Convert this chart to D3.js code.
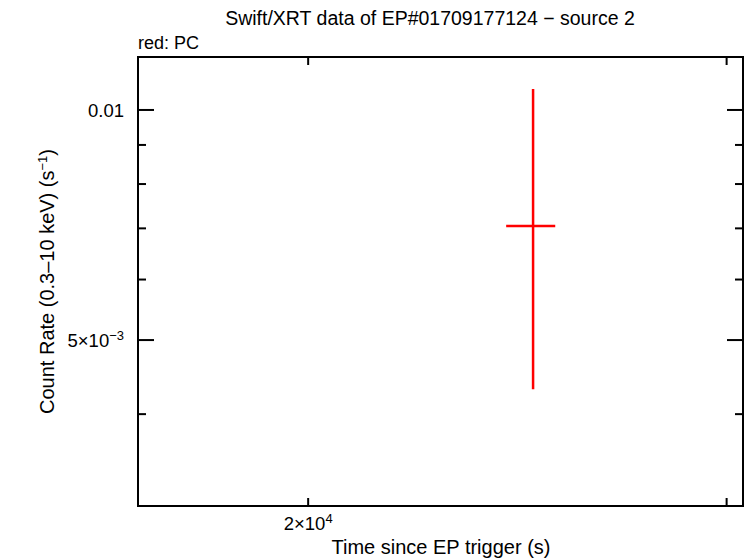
<!DOCTYPE html>
<html>
<head>
<meta charset="utf-8">
<script src="https://cdn.jsdelivr.net/npm/d3@7"></script>
<style>
  body { margin: 0; background: #fff; }
  text { font-family: "Liberation Sans", Arial, sans-serif; fill: #000; }
</style>
</head>
<body>
<div id="chart"></div>
<script>
// data
var times = [24870];
var timeLo = [24230];
var timeHi = [25410];
var rates = [0.00705];
var rateLo = [0.00431];
var rateHi = [0.01065];

var xMajor = [20000, 30000];
var xLabelBase = ["2\u00d710", ""];
var xLabelExp = ["4", ""];
var yMajor = [0.005, 0.01];
var yLabelBase = ["5\u00d710", "0.01"];
var yLabelExp = ["\u22123", ""];
var yMinor = [0.004, 0.006, 0.007, 0.008, 0.009];

var W = 746, H = 558;
var margin = { top: 57, right: 3, bottom: 52, left: 138 },
    width = W - margin.left - margin.right,
    height = H - margin.top - margin.bottom;

var x = d3.scaleLog()
    .domain([16960, 30480])
    .range([0, width]);

var y = d3.scaleLog()
    .domain([0.003033, 0.01173])
    .range([height, 0]);

var root = d3.select('#chart')
    .append('svg')
    .attr('width', W)
    .attr('height', H);

var svg = root.append('g')
    .attr('transform', 'translate(' + margin.left + ',' + margin.top + ')');

// title
root.append('text')
    .attr('x', 430)
    .attr('y', 25)
    .attr('text-anchor', 'middle')
    .style('font-size', '19.5px')
    .text('Swift/XRT data of EP#01709177124 \u2212 source 2');

root.append('text')
    .attr('x', 138)
    .attr('y', 49)
    .style('font-size', '18px')
    .text('red: PC');

// error bars
var pts = svg.selectAll('g.pt')
    .data(times)
    .enter().append('g')
    .attr('class', 'pt');

pts.append('line')
    .attr('x1', function(d) { return x(d); })
    .attr('x2', function(d) { return x(d); })
    .attr('y1', function(d, i) { return y(rateHi[i]); })
    .attr('y2', function(d, i) { return y(rateLo[i]); })
    .attr('stroke', '#ff0000')
    .attr('stroke-width', 2.5);

pts.append('line')
    .attr('x1', function(d, i) { return x(timeLo[i]); })
    .attr('x2', function(d, i) { return x(timeHi[i]); })
    .attr('y1', function(d, i) { return y(rates[i]); })
    .attr('y2', function(d, i) { return y(rates[i]); })
    .attr('stroke', '#ff0000')
    .attr('stroke-width', 2.5);

// ticks, all four sides
function tick(x1, y1, x2, y2) {
    svg.append('line')
        .attr('x1', x1).attr('y1', y1)
        .attr('x2', x2).attr('y2', y2)
        .attr('stroke', 'black')
        .attr('stroke-width', 2);
}

xMajor.forEach(function(v) {
    tick(x(v), height, x(v), height - 8);
    tick(x(v), 0, x(v), 8);
});
yMajor.forEach(function(v) {
    tick(0, y(v), 16, y(v));
    tick(width, y(v), width - 16, y(v));
});
yMinor.forEach(function(v) {
    tick(0, y(v), 8, y(v));
    tick(width, y(v), width - 8, y(v));
});

// tick labels
var xl = svg.selectAll('text.xl')
    .data(xMajor)
    .enter().append('text')
    .attr('class', 'xl')
    .attr('x', function(d) { return x(d); })
    .attr('y', height + 24)
    .attr('text-anchor', 'middle')
    .style('font-size', '18.5px');
xl.append('tspan').text(function(d, i) { return xLabelBase[i]; });
xl.append('tspan')
    .attr('dy', -7)
    .style('font-size', '13px')
    .text(function(d, i) { return xLabelExp[i]; });

var yl = svg.selectAll('text.yl')
    .data(yMajor)
    .enter().append('text')
    .attr('class', 'yl')
    .attr('x', -14)
    .attr('y', function(d) { return y(d) + 7; })
    .attr('text-anchor', 'end')
    .style('font-size', '18.5px');
yl.append('tspan').text(function(d, i) { return yLabelBase[i]; });
yl.append('tspan')
    .attr('dy', -7)
    .style('font-size', '13px')
    .text(function(d, i) { return yLabelExp[i]; });

// frame
svg.append('rect')
    .attr('x', 0)
    .attr('y', 0)
    .attr('width', width)
    .attr('height', height)
    .attr('fill', 'none')
    .attr('stroke', 'black')
    .attr('stroke-width', 2);

// axis titles
root.append('text')
    .attr('x', 441)
    .attr('y', 554)
    .attr('text-anchor', 'middle')
    .style('font-size', '20px')
    .text('Time since EP trigger (s)');

var yt = root.append('text')
    .attr('transform', 'translate(54,' + (margin.top + height / 2) + ') rotate(-90)')
    .attr('text-anchor', 'middle')
    .style('font-size', '20px');
yt.append('tspan').text('Count Rate (0.3\u201310 keV) (s');
yt.append('tspan').attr('dy', -7).style('font-size', '13px').text('\u22121');
yt.append('tspan').attr('dy', 7).text(')');
</script>
</body>
</html>
